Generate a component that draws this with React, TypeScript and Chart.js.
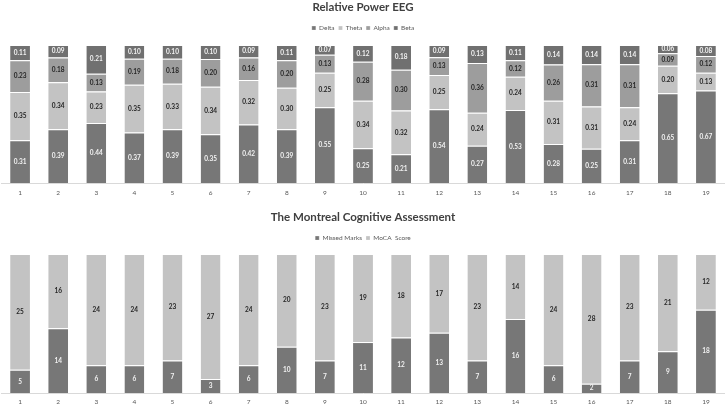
import React, { useEffect, useRef } from "react";
import { Chart, registerables } from "chart.js";

Chart.register(...registerables);

// ---------- data ----------
const subjects = ["1","2","3","4","5","6","7","8","9","10","11","12","13","14","15","16","17","18","19"];

const eegTitle = "Relative Power EEG";
const delta = [0.31,0.39,0.44,0.37,0.39,0.35,0.42,0.39,0.55,0.25,0.21,0.54,0.27,0.53,0.28,0.25,0.31,0.65,0.67];
const theta = [0.35,0.34,0.23,0.35,0.33,0.34,0.32,0.30,0.25,0.34,0.32,0.25,0.24,0.24,0.31,0.31,0.24,0.20,0.13];
const alpha = [0.23,0.18,0.13,0.19,0.18,0.20,0.16,0.20,0.13,0.28,0.30,0.13,0.36,0.12,0.26,0.31,0.31,0.09,0.12];
const beta  = [0.11,0.09,0.21,0.10,0.10,0.10,0.09,0.11,0.07,0.12,0.18,0.09,0.13,0.11,0.14,0.14,0.14,0.06,0.08];

const mocaTitle = "The Montreal Cognitive Assessment";
const missedMarks = [5,14,6,6,7,3,6,10,7,11,12,13,7,16,6,2,7,9,18];
const mocaScore   = [25,16,24,24,23,27,24,20,23,19,18,17,23,14,24,28,23,21,12];

// ---------- styling ----------
const FONT = "Lato, 'Open Sans', sans-serif";
const DARK = "#777777";
const DARKER = "#707070";
const MID = "#9d9d9d";
const LIGHT = "#c3c3c3";

type Series = { label: string; values: number[]; color: string; labelColor: string };

// 100% stacked: each column is shown as share of its own total
function toShare(all: number[][], k: number): number[] {
  return all[k].map((_, i) => {
    const total = all.reduce((s, arr) => s + arr[i], 0);
    return all[k][i] / total;
  });
}

const segLabels = {
  id: "segLabels",
  afterDatasetsDraw(chart: any) {
    const ctx = chart.ctx;
    const opts = chart.options.plugins.segLabels || {};
    chart.data.datasets.forEach((ds: any, di: number) => {
      const meta = chart.getDatasetMeta(di);
      if (meta.hidden) return;
      meta.data.forEach((el: any, i: number) => {
        const raw = ds.rawValues[i];
        const y = (el.y + el.base) / 2;
        ctx.save();
        ctx.font = `bold ${opts.size || 6.5}px ${FONT}`;
        ctx.fillStyle = ds.labelColor;
        ctx.textAlign = "center";
        ctx.textBaseline = "middle";
        ctx.fillText(opts.decimals ? raw.toFixed(opts.decimals) : String(raw), el.x, y);
        ctx.restore();
      });
    });
  },
};

function StackChart(props: {
  title: string;
  series: Series[];
  titleTop: number;
  xHeight: number;
  tickPad: number;
  spacer: number;
  decimals: number;
}) {
  const ref = useRef<HTMLCanvasElement | null>(null);
  useEffect(() => {
    if (!ref.current) return;
    const all = props.series.map((s) => s.values);
    const chart = new Chart(ref.current, {
      type: "bar",
      data: {
        labels: subjects,
        datasets: props.series.map((s, k) => ({
          label: s.label,
          data: toShare(all, k),
          rawValues: s.values,
          labelColor: s.labelColor,
          backgroundColor: s.color,
          borderColor: "#ffffff",
          borderWidth: { top: 1, left: 0, right: 0, bottom: 0 },
          borderSkipped: false,
          barPercentage: 0.52,
          categoryPercentage: 1,
        })) as any,
      },
      options: {
        animation: false,
        responsive: true,
        maintainAspectRatio: false,
        layout: { padding: { left: 1, right: 0, top: 0, bottom: 0 } },
        plugins: {
          title: {
            display: true,
            text: props.title,
            color: "#404040",
            font: { family: FONT, size: 11.5, weight: "bold" },
            padding: { top: props.titleTop, bottom: 7 },
          },
          legend: {
            display: true,
            position: "top",
            labels: {
              boxWidth: 4,
              boxHeight: 4,
              padding: 4,
              color: "#595959",
              font: { family: FONT, size: 6.5 },
            },
          },
          tooltip: { enabled: false },
          segLabels: { decimals: props.decimals, size: 6.5 },
        } as any,
        scales: {
          x: {
            stacked: true,
            position: "bottom",
            grid: { display: false, drawTicks: false },
            border: { display: true, color: "#d9d9d9", width: 1 },
            ticks: {
              color: "#595959",
              font: { family: FONT, size: 6.5 },
              padding: props.tickPad,
              maxRotation: 0,
              autoSkip: false,
            },
            afterFit: (s: any) => {
              s.height = props.xHeight;
            },
          },
          xSpacer: {
            type: "category",
            position: "top",
            display: true,
            grid: { display: false, drawTicks: false },
            border: { display: false },
            ticks: { display: false },
            afterFit: (s: any) => {
              s.height = props.spacer;
            },
          },
          y: {
            stacked: true,
            display: false,
            min: 0,
            max: 1,
          },
        },
      },
      plugins: [segLabels as any],
    });
    return () => chart.destroy();
  }, []);
  return <canvas ref={ref} />;
}

export default function App() {
  const eegSeries: Series[] = [
    { label: "Delta", values: delta, color: DARK, labelColor: "#f2f2f2" },
    { label: "Theta", values: theta, color: LIGHT, labelColor: "#262626" },
    { label: "Alpha", values: alpha, color: MID, labelColor: "#262626" },
    { label: "Beta", values: beta, color: DARKER, labelColor: "#f2f2f2" },
  ];
  const mocaSeries: Series[] = [
    { label: "Missed Marks", values: missedMarks, color: DARK, labelColor: "#f2f2f2" },
    { label: "MoCA  Score", values: mocaScore, color: LIGHT, labelColor: "#262626" },
  ];
  return (
    <div style={{ position: "fixed", left: 0, top: 0, width: 725, height: 408, background: "#ffffff" }}>
      <div style={{ position: "absolute", left: 0, top: 0, width: 725, height: 204 }}>
        <StackChart title={eegTitle} series={eegSeries} titleTop={0} xHeight={21} tickPad={6} spacer={3.75} decimals={2} />
      </div>
      <div style={{ position: "absolute", left: 0, top: 204, width: 725, height: 204 }}>
        <StackChart title={mocaTitle} series={mocaSeries} titleTop={6} xHeight={15} tickPad={5} spacer={2.75} decimals={0} />
      </div>
    </div>
  );
}
